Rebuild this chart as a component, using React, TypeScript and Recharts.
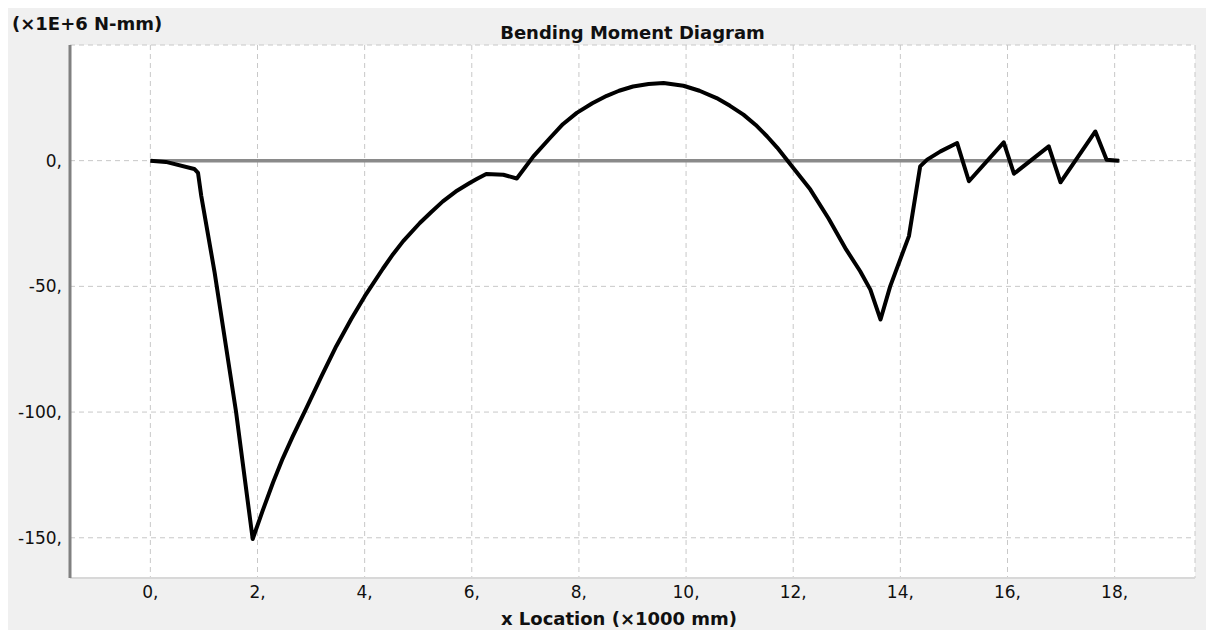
import { LineChart, Line, XAxis, YAxis, CartesianGrid } from "recharts";

// x location along the beam (x1000 mm)
const xLocation = [
  0, 0.29, 0.82, 0.89, 0.95, 1.2, 1.6, 1.91, 2.1, 2.29, 2.47, 2.66, 2.91,
  3.2, 3.47, 3.75, 4.0, 4.34, 4.53, 4.72, 5.03, 5.25, 5.46, 5.7, 5.96, 6.1,
  6.27, 6.59, 6.84, 7.15, 7.46, 7.7, 7.96, 8.25, 8.52, 8.75, 9.01, 9.3, 9.58,
  9.95, 10.25, 10.57, 10.82, 11.07, 11.3, 11.51, 11.7, 11.88, 12.32, 12.66,
  12.99, 13.25, 13.44, 13.63, 13.81, 14.16, 14.37, 14.5, 14.75, 15.06, 15.28,
  15.93, 16.12, 16.77, 16.99, 17.64, 17.85, 18.08,
];

// bending moment (x1E+6 N-mm)
const moment = [
  0, -0.5, -3.3, -4.9, -14, -44.5, -100, -150.5, -139, -128, -118.5, -109.6,
  -98.5, -85.5, -73.8, -63, -54, -43, -37.2, -32, -24.8, -20.3, -16.2, -12.3,
  -8.9, -7.2, -5.3, -5.6, -7.1, 1.7, 9, 14.5, 19, 22.8, 25.8, 27.8, 29.5,
  30.5, 30.9, 29.8, 27.8, 24.9, 21.8, 18.3, 14.2, 9.7, 5.2, 0.4, -11.5, -23,
  -35.4, -44, -51.3, -63.2, -50, -30, -2.3, 0.4, 3.7, 7, -8.2, 7.3, -5.2, 5.7,
  -8.6, 11.6, 0.4, 0,
];

// beam axis (zero line) ends
const beamEnds = [0, 18.1];

const xTicks = [0, 2, 4, 6, 8, 10, 12, 14, 16, 18];
const yTicks = [-150, -100, -50, 0];

const momentData = xLocation.map((x, i) => ({ x, m: moment[i] }));
const beamData = beamEnds.map((x) => ({ x, m: 0 }));

const font = "'DejaVu Sans', Verdana, sans-serif";
const tickStyle = { fontSize: 17, fill: "#101010", fontFamily: font };

export default function App() {
  return (
    <div
      style={{
        position: "relative",
        width: 1206,
        height: 622,
        background: "#f0f0f0",
        fontFamily: font,
        color: "#101010",
      }}
    >
      <div
        style={{
          position: "absolute",
          left: 4,
          top: 5,
          fontSize: 18,
          lineHeight: "21px",
          fontWeight: "bold",
          whiteSpace: "nowrap",
        }}
      >
        (×1E+6 N-mm)
      </div>
      <div
        style={{
          position: "absolute",
          left: 62,
          width: 1125,
          top: 14,
          fontSize: 18,
          lineHeight: "21px",
          fontWeight: "bold",
          textAlign: "center",
        }}
      >
        Bending Moment Diagram
      </div>

      <LineChart
        width={1206}
        height={622}
        margin={{ top: 37, right: 19, left: 0, bottom: 0 }}
      >
        <CartesianGrid
          fill="#ffffff"
          stroke="#c8c8c8"
          strokeDasharray="5 4"
        />
        <XAxis
          dataKey="x"
          type="number"
          domain={[-1.5, 19.5]}
          ticks={xTicks}
          interval={0}
          tickFormatter={(v) => `${v},`}
          tickLine={false}
          axisLine={{ stroke: "#d8d8d8", strokeWidth: 2 }}
          tick={tickStyle}
          height={52}
          allowDataOverflow
        />
        <XAxis
          xAxisId="top"
          orientation="top"
          type="number"
          domain={[-1.5, 19.5]}
          tick={false}
          tickLine={false}
          height={0}
          axisLine={{ stroke: "#808080", strokeWidth: 3 }}
        />
        <YAxis
          type="number"
          domain={[-166, 46]}
          ticks={yTicks}
          interval={0}
          tickFormatter={(v) => `${v},`}
          tickLine={false}
          axisLine={{ stroke: "#808080", strokeWidth: 3 }}
          tick={tickStyle}
          width={62}
          allowDataOverflow
        />
        <YAxis
          yAxisId="right"
          orientation="right"
          type="number"
          domain={[-166, 46]}
          tick={false}
          tickLine={false}
          width={0}
          axisLine={{ stroke: "#d8d8d8", strokeWidth: 2 }}
        />
        <Line
          data={beamData}
          dataKey="m"
          type="linear"
          stroke="#8a8a8a"
          strokeWidth={3.5}
          dot={false}
          isAnimationActive={false}
        />
        <Line
          data={momentData}
          dataKey="m"
          type="linear"
          stroke="#000000"
          strokeWidth={4}
          strokeLinejoin="round"
          dot={false}
          isAnimationActive={false}
        />
      </LineChart>

      <div
        style={{
          position: "absolute",
          left: 611,
          top: 600,
          transform: "translateX(-50%)",
          fontSize: 18,
          lineHeight: "21px",
          fontWeight: "bold",
          whiteSpace: "nowrap",
        }}
      >
        x Location (×1000 mm)
      </div>
    </div>
  );
}
